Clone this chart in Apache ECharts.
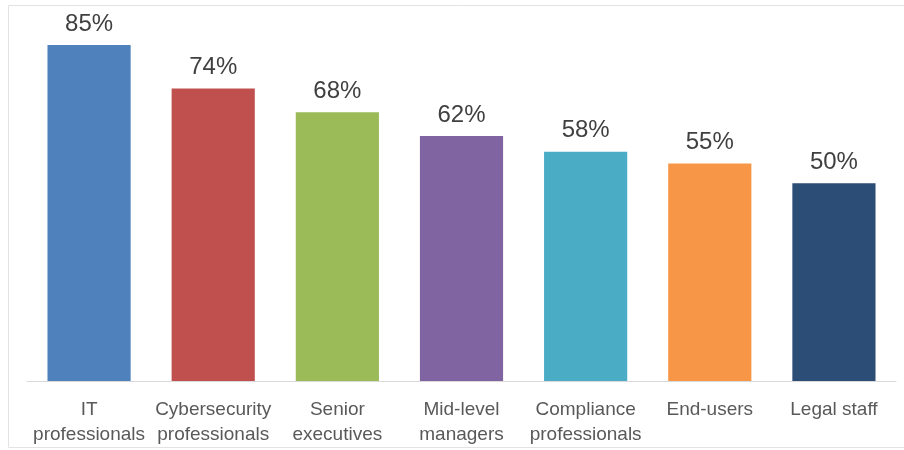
<!DOCTYPE html>
<html>
<head>
<meta charset="utf-8">
<style>
  html, body { margin: 0; padding: 0; background: #ffffff; }
  #chart { width: 904px; height: 450px; }
</style>
<script src="https://cdn.jsdelivr.net/npm/echarts@6/dist/echarts.min.js"></script>
</head>
<body>
<div id="chart"></div>
<script>
// Share of each group, in percent
const categories = [
  'IT\nprofessionals',
  'Cybersecurity\nprofessionals',
  'Senior\nexecutives',
  'Mid-level\nmanagers',
  'Compliance\nprofessionals',
  'End-users',
  'Legal staff'
];
const values = [85, 74, 68, 62, 58, 55, 50];
const barColors = ['#4F81BD', '#C0504D', '#9BBB59', '#8064A2', '#4BACC6', '#F79646', '#2C4D75'];

const chart = echarts.init(document.getElementById('chart'), null, { renderer: 'canvas' });

chart.setOption({
  animation: false,
  backgroundColor: '#ffffff',
  graphic: [{
    type: 'rect',
    shape: { x: 8.5, y: 5.5, width: 1000, height: 442 },
    style: { fill: 'none', stroke: '#e3e3e3', lineWidth: 1 },
    silent: true,
    z: -1
  }],
  grid: { left: 27, right: 8, top: 25.2, bottom: 69, containLabel: false },
  xAxis: {
    type: 'category',
    data: categories,
    axisLine: { show: true, lineStyle: { color: '#d9d9d9', width: 1 } },
    axisTick: { show: false },
    axisLabel: {
      interval: 0,
      margin: 16,
      color: '#595959',
      fontFamily: 'Liberation Sans, Arial, sans-serif',
      fontSize: 19,
      lineHeight: 25
    }
  },
  yAxis: {
    type: 'value',
    min: 0,
    max: 90,
    show: false,
    splitLine: { show: false }
  },
  series: [{
    type: 'bar',
    data: values.map((v, i) => ({ value: v, itemStyle: { color: barColors[i] } })),
    barWidth: '67%',
    label: {
      show: true,
      position: 'top',
      distance: 9,
      formatter: '{c}%',
      color: '#404040',
      fontFamily: 'Liberation Sans, Arial, sans-serif',
      fontSize: 24
    }
  }]
});
</script>
</body>
</html>
